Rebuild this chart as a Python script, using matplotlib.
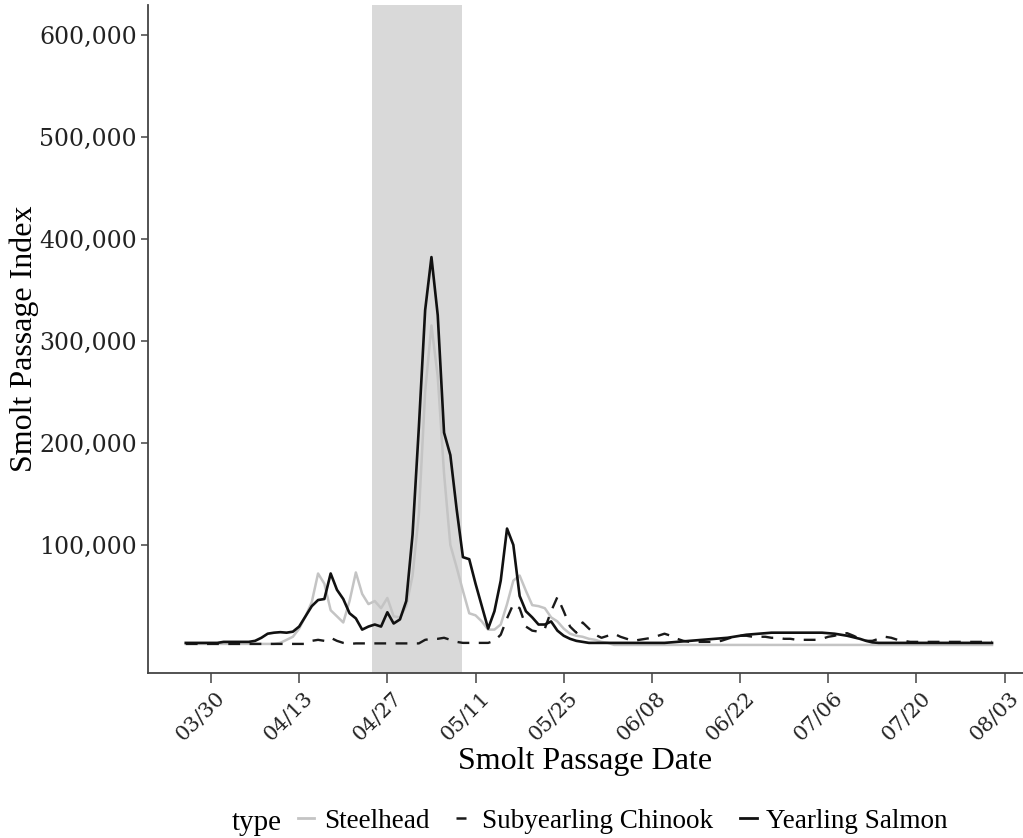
import numpy as np
import pandas as pd
import matplotlib
matplotlib.use('Agg')
from matplotlib import pyplot as plt
from matplotlib import dates as mdates
from matplotlib import transforms
from matplotlib.ticker import FuncFormatter
from matplotlib.lines import Line2D

# datas diárias (03/26 a 08/01)
datas = pd.date_range('2021-03-26', '2021-08-01', freq='D')

# valores em milhares
yearling = [4, 4, 4, 4, 4, 4, 5, 5, 5, 5, 5, 6, 9, 13, 14, 14.5, 14, 15, 20, 30,
            40, 46, 47, 72, 56, 47, 33, 28, 17, 20, 22, 20, 34, 23, 27, 45, 110, 215, 330, 382,
            325, 210, 188, 135, 88, 86, 62, 40, 18, 35, 65, 116, 100, 50, 35, 29, 22, 22, 25, 16,
            11, 8, 6, 5, 4, 4, 4, 4, 4, 4, 4, 4, 4, 4, 4, 4, 4, 4.5, 5, 5.5,
            6, 6.5, 7, 7.5, 8, 8.5, 9, 10, 11, 12, 12.5, 13, 13.5, 14, 14, 14, 14, 14, 14, 14,
            14, 14, 13.5, 13, 12, 11, 9.5, 8, 6, 4.5, 4, 4, 4, 4, 4, 4, 4, 4, 4, 4,
            4, 4, 4, 4, 4, 4, 4, 4, 4]

steelhead = [3, 3, 3, 3, 3, 3, 3, 3, 3, 3, 3, 3, 3, 3, 3, 4, 7, 10, 18, 30,
             44, 72, 62, 36, 30, 24, 45, 73, 52, 42, 45, 38, 48, 30, 29, 40, 70, 130, 250, 315,
             265, 170, 100, 78, 55, 33, 31, 25, 17, 17, 22, 42, 65, 70, 55, 41, 40, 38, 29, 25,
             18, 13, 11, 10, 8, 7, 5, 4, 2, 2, 2, 2, 2, 2, 2, 2, 2, 2, 2, 2,
             2, 2, 2, 2, 2, 2, 2, 2, 2, 2, 2, 2, 2, 2, 2, 2, 2, 2, 2, 2,
             2, 2, 2, 2, 2, 2, 2, 2, 2, 2, 2, 2, 2, 2, 2, 2, 2, 2, 2, 2,
             2, 2, 2, 2, 2, 2, 2, 2, 2]

subyearling = [3, 3, 3, 3, 3, 3, 3, 3, 3, 3, 3, 3, 3, 3, 3, 3, 3, 3, 3, 3,
               6, 7, 6, 9, 6, 4, 3, 3.5, 3.5, 3.5, 3.5, 3.5, 3.5, 3.5, 3.5, 3.5, 3.5, 3.5, 7, 8,
               8, 9, 7, 5, 4, 4, 4, 4, 4, 6, 12, 28, 42, 38, 20, 16, 15, 18, 35, 49,
               35, 20, 14, 24, 18, 12, 9, 11, 13, 10, 8, 6, 7, 8, 9, 11, 13, 11, 8, 6,
               5, 5, 5, 5, 5, 6, 8, 10, 11, 11, 10, 10, 10, 9, 9, 8, 8, 7, 7, 7,
               7, 8, 10, 11, 13, 13.5, 11, 8, 6, 6, 8, 10, 9, 7, 6, 5, 5, 5, 5, 5,
               5, 5, 5, 5, 5, 5, 5, 5, 5]

inicio_faixa = pd.Timestamp('2021-04-24 13:00')
fim_faixa = pd.Timestamp('2021-05-08 20:00')

ticks_x = pd.date_range('2021-03-30', '2021-08-03', freq='14D')
ticks_y = [100000, 200000, 300000, 400000, 500000, 600000]

fig = plt.figure(figsize=(10.23, 8.38), dpi=100)
ax = fig.add_axes([148 / 1023, 1 - 673 / 838, 1 - 148 / 1023, 668 / 838])

ax.axvspan(inicio_faixa, fim_faixa, color='#d9d9d9', lw=0, zorder=0)

ax.plot(datas, np.array(steelhead) * 1000, color='#c4c4c4', lw=1.8, label='Steelhead')
ax.plot(datas, np.array(subyearling) * 1000, color='#1a1a1a', lw=1.7, dashes=(5, 4),
        label='Subyearling Chinook')
ax.plot(datas, np.array(yearling) * 1000, color='#111111', lw=1.9, label='Yearling Salmon')

ax.set_xlim(pd.Timestamp('2021-03-20'), pd.Timestamp('2021-08-05 22:00'))
ax.set_ylim(-25500, 629000)

ax.set_yticks(ticks_y)
ax.yaxis.set_major_formatter(FuncFormatter(lambda v, p: f'{int(v):,}'))
ax.set_xticks(ticks_x)
ax.xaxis.set_major_formatter(mdates.DateFormatter('%m/%d'))

for s in ['top', 'right']:
    ax.spines[s].set_visible(False)
for s in ['left', 'bottom']:
    ax.spines[s].set_color('#444444')
    ax.spines[s].set_linewidth(1.3)

ax.tick_params(axis='y', length=5, width=1.1, color='#444444', labelsize=17, pad=3)
ax.tick_params(axis='x', length=7, width=1.1, color='#444444', labelsize=15, pad=4)
for t in ax.get_yticklabels():
    t.set_fontfamily('DejaVu Serif')
    t.set_color('#222222')
desloc = transforms.ScaledTranslation(18 / 100, 0, fig.dpi_scale_trans)
for t in ax.get_xticklabels():
    t.set_fontfamily('DejaVu Serif')
    t.set_color('#222222')
    t.set_rotation(45)
    t.set_ha('right')
    t.set_transform(t.get_transform() + desloc)

ax.set_ylabel('Smolt Passage Index', fontsize=23, family='Liberation Serif', labelpad=0)
ax.set_xlabel('Smolt Passage Date', fontsize=23, family='Liberation Serif', labelpad=2)

# legenda embaixo
fig.text(232 / 1023, 1 - 823 / 838, 'type', fontsize=21, family='Liberation Serif',
         va='center', ha='left')
handles = [Line2D([], [], color='#c4c4c4', lw=2),
           Line2D([], [], color='#1a1a1a', lw=1.8, dashes=(4, 3)),
           Line2D([], [], color='#111111', lw=2)]
fig.legend(handles, ['Steelhead', 'Subyearling Chinook', 'Yearling Salmon'],
           loc='center left', bbox_to_anchor=(298 / 1023, 1 - 821 / 838), ncol=3,
           frameon=False, prop={'family': 'Liberation Serif', 'size': 19.5},
           handlelength=0.6, handletextpad=0.35, columnspacing=1.0, borderpad=0,
           borderaxespad=0)

fig.savefig('out.png', dpi=100)
